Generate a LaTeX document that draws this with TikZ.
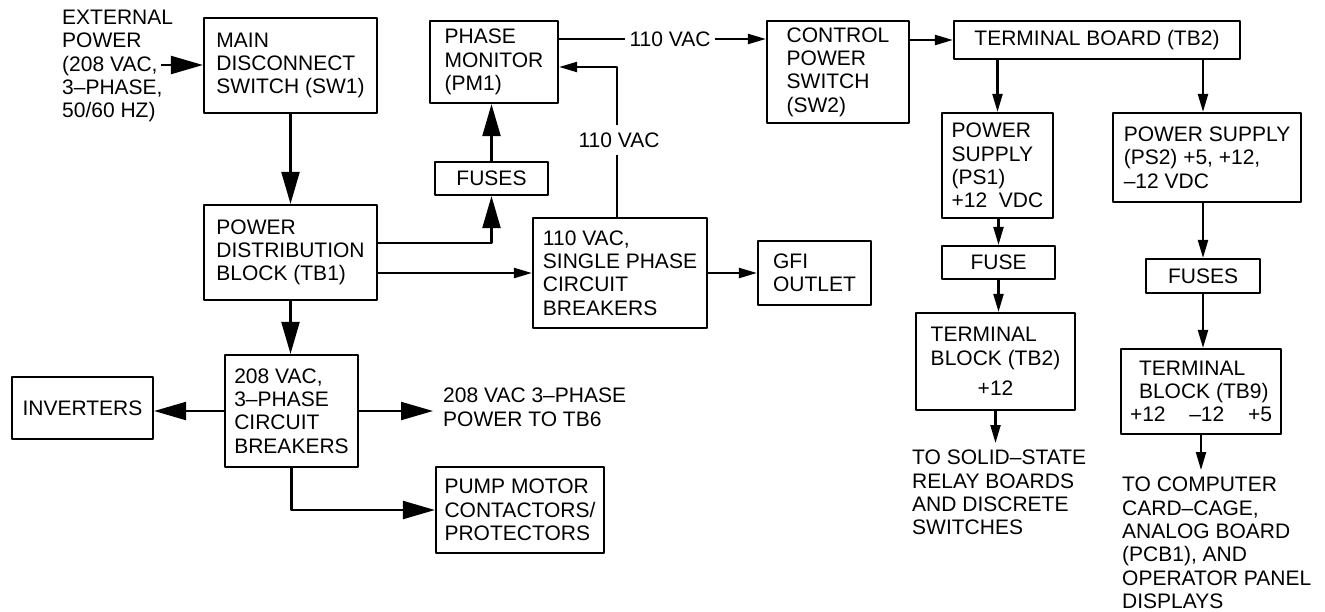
\documentclass[tikz,border=0pt]{standalone}
\usepackage{fontspec}
\setmainfont{Liberation Sans}
\usepackage{tikz}
\usetikzlibrary{arrows.meta,calc}
\tikzset{
  blk/.style={draw, line width=2.2pt, inner sep=0pt, align=left},
  lbl/.style={inner sep=0pt, align=left},
  wire/.style={line width=2.2pt},
  barr/.style={wire, -{Triangle[length=32pt,width=18pt]}},
  sarr/.style={wire, -{Triangle[length=18pt,width=10pt]}},
  every picture/.append style={font=\fontsize{21}{23.3}\selectfont, line join=round}
}

\begin{document}
\begin{tikzpicture}[x=1pt,y=-1pt]
  \useasboundingbox (0,0) rectangle (1325,611);
  % mains side, 208 VAC
  \node[lbl, anchor=north west] (ext) at (62,10) {EXTERNAL\\POWER\\(208 VAC,\\3–PHASE,\\50/60 HZ)};
  \coordinate (extin) at (161,65);
  \node[blk, minimum width=173, minimum height=95] (sw1) at (290.5,65.5) {MAIN\\DISCONNECT\\SWITCH (SW1)};
  \node[blk, minimum width=173, minimum height=95] (pdb) at (290.5,252.5) {POWER\\DISTRIBUTION\\BLOCK (TB1)};
  \node[blk, minimum width=133, minimum height=112] (cb208) at (291.5,411) {208 VAC,\\3–PHASE\\CIRCUIT\\BREAKERS};
  \node[blk, minimum width=141, minimum height=62] (inv) at (82.5,408) {INVERTERS};
  \node[lbl, anchor=north west, inner xsep=10pt] (tb6) at (433,388) {208 VAC 3–PHASE\\POWER TO TB6};
  \node[blk, minimum width=168, minimum height=86] (pump) at (520,510) {PUMP MOTOR\\CONTACTORS/\\PROTECTORS};

  % 110 VAC branch
  \node[blk, minimum width=128, minimum height=82] (pm1) at (494,62) {PHASE\\MONITOR\\(PM1)};
  \node[blk, minimum width=113, minimum height=33] (fuses) at (491.5,178.5) {FUSES};
  \node[blk, minimum width=174, minimum height=110] (cb110) at (620,273) {110 VAC,\\SINGLE PHASE\\CIRCUIT\\BREAKERS};
  \node[blk, minimum width=113, minimum height=64] (gfi) at (814.5,273) {GFI\\OUTLET};
  \node[lbl, inner sep=4pt] (v1) at (670,39) {110 VAC};
  \node[lbl, inner xsep=0pt, inner ysep=7pt] (v2) at (619,140) {110 VAC};
  \coordinate (fbtop) at (617,67);

  % control power, low voltage supplies
  \node[blk, minimum width=142, minimum height=102] (sw2) at (838,72) {CONTROL\\POWER\\SWITCH\\(SW2)};
  \node[blk, minimum width=286, minimum height=38] (tb2) at (1097,40) {TERMINAL BOARD (TB2)};
  \node[blk, minimum width=111, minimum height=105] (ps1) at (997.5,165.5) {POWER\\SUPPLY\\(PS1)\\+12\ \ VDC};
  \node[blk, minimum width=113, minimum height=33] (fuse) at (998.5,262.5) {FUSE};
  \node[blk, minimum width=159, minimum height=97] (tbb2) at (995.5,361.5) {TERMINAL\\BLOCK (TB2)\\[7pt]\hspace*{47pt}+12};
  \node[lbl, anchor=north west, inner xsep=0pt, inner ysep=7pt] (relay) at (912,443) {TO SOLID–STATE\\RELAY BOARDS\\AND DISCRETE\\SWITCHES};
  \node[blk, minimum width=188, minimum height=89] (ps2) at (1207,157.5) {POWER SUPPLY\\(PS2) +5, +12,\\–12 VDC};
  \node[blk, minimum width=114, minimum height=34] (fuses2) at (1203,276) {FUSES};
  \node[blk, minimum width=160, minimum height=85] (tbb9) at (1201,391.5) {\hspace*{9pt}TERMINAL\\\hspace*{9pt}BLOCK (TB9)\\\makebox[142pt][l]{+12\hfill–12\hfill+5}};
  \node[lbl, anchor=north west, inner xsep=0pt, inner ysep=7pt] (comp) at (1122,470) {TO COMPUTER\\CARD–CAGE,\\ANALOG BOARD\\(PCB1), AND\\OPERATOR PANEL\\DISPLAYS};

  % connectors
  \draw[barr] (extin) -- (extin -| sw1.west);
  \draw[barr] (sw1.south) -- (pdb.north);
  \draw[barr] (pdb.south) -- (pdb.south |- cb208.north);
  \draw[barr] (cb208.west) -- (cb208.west -| inv.east);
  \draw[barr] (cb208.east) -- (cb208.east -| tb6.west);
  \draw[barr] (cb208.south) |- (pump.west);
  \draw[barr] ($(pdb.east)+(0,-9.5)$) -| (fuses.south);
  \draw[barr] (fuses.north) -- (fuses.north |- pm1.south);
  \draw[sarr] (pdb.east |- cb110.west) -- (cb110.west);
  \draw[sarr] (cb110.east) -- (gfi.west);
  \draw[wire] (v1.west -| pm1.east) -- (v1.west);
  \draw[sarr] (v1.east) -- (v1.east -| sw2.west);
  \draw[wire] (fbtop |- cb110.north) -- (fbtop |- v2.south);
  \draw[sarr] (fbtop |- v2.north) -- (fbtop) -- (fbtop -| pm1.east);
  \draw[sarr] (sw2.east |- tb2.west) -- (tb2.west);
  \draw[sarr] (ps1.north |- tb2.south) -- (ps1.north);
  \draw[sarr] (fuses2.north |- tb2.south) -- (fuses2.north |- ps2.north);
  \draw[sarr] (fuse.north |- ps1.south) -- (fuse.north);
  \draw[sarr] (fuse.south) -- (fuse.south |- tbb2.north);
  \draw[sarr] (tbb2.south) -- (tbb2.south |- relay.north);
  \draw[sarr] (fuses2.north |- ps2.south) -- (fuses2.north);
  \draw[sarr] (fuses2.south) -- (fuses2.south |- tbb9.north);
  \draw[sarr] (tbb9.south) -- (tbb9.south |- comp.north);
\end{tikzpicture}
\end{document}
